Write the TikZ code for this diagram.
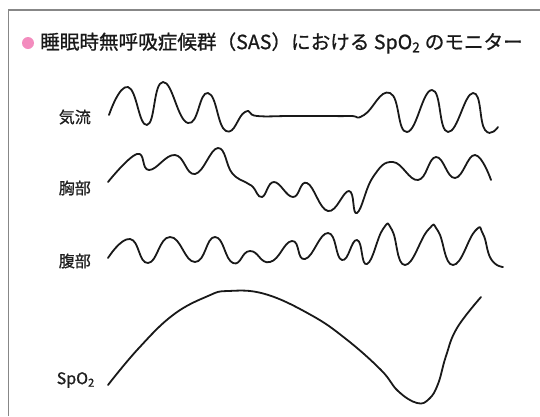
\documentclass[tikz,border=0pt]{standalone}
\usepackage{fontspec}
\setmainfont{Noto Sans CJK JP}[FakeBold=0.8]
\newfontfamily\labelfont{Noto Sans CJK JP}[FakeBold=0.9]
\newfontfamily\titlefont{Noto Sans CJK JP}[FakeBold=0.9]
\usetikzlibrary{positioning}

\definecolor{bulletpink}{RGB}{243,140,190}
\definecolor{framegray}{RGB}{135,135,135}

\begin{document}
\begin{tikzpicture}[
    x=1pt, y=-1pt,
    frame/.style={draw=framegray, line width=1.3pt},
    signal/.style={anchor=east, inner sep=0pt, text=black!88, font=\labelfont\fontsize{16}{16}\selectfont},
    wave/.style={line width=1.8pt, line join=round, line cap=round, black!90}
]
\useasboundingbox (0,0) rectangle (540,416);

% Frame
\draw[frame] (8.5,416) -- (8.5,10) -- (540,10);

% Title
\node[circle, fill=bulletpink, minimum size=12pt, inner sep=0pt] (dot) at (28,43) {};
\node[anchor=west, inner sep=0pt, text=black!90, font=\titlefont\fontsize{19.6}{20}\selectfont] (title) at (40,43)
    {睡眠時無呼吸症候群（SAS）における SpO\textsubscript{2} のモニター};

% Labels
\node[signal] (flow) at (91,117) {気流};
\node[signal] (chest) at (91,188) {胸部};
\node[signal] (abdomen) at (91,261) {腹部};
\node[signal] (spo) at (95,380) {SpO\textsubscript{2}};

% Airflow
\draw[wave] plot[smooth, tension=0.85] coordinates {
    (109,115) (128,87) (147,125) (163,82) (188,123) (208,93) (226,131)
    (245,112) (257,116) (290,116) (320,116) (350,116) (364,115) (390,93)
    (407,132) (432,90) (448,132) (473,93) (485,130) (498,127)};

% Chest
\draw[wave] plot[smooth, tension=0.75] coordinates {
    (108,182) (137,154) (149,170) (175,155) (195,174) (218,148) (232,173)
    (247,183) (253,187) (262,197) (274,182) (293,197) (307,183) (328,211)
    (349,191) (357,213) (373,177) (393,162) (418,180) (436,157) (455,178)
    (475,155) (491,180)};

% Abdomen
\draw[wave] plot[smooth, tension=0.85] coordinates {
    (108,258) (130,239) (148,263) (170,237) (195,262) (215,237) (233,263)
    (250,251) (270,262) (292,241) (305,259) (328,233) (342,260) (357,240)
    (367,264) (383,229) (392,230) (405,265) (428,230) (438,231) (453,265)
    (475,231) (483,234) (491,259) (503,267)};

% SpO2
\draw[wave] plot[smooth, tension=0.7] coordinates {
    (108,385) (138,349) (173,315) (208,296) (228,291) (265,294) (311,315)
    (346,339) (381,370) (398,391) (417,403) (429,399) (438,384) (446,356)
    (457,328) (481,297)};

\end{tikzpicture}
\end{document}
